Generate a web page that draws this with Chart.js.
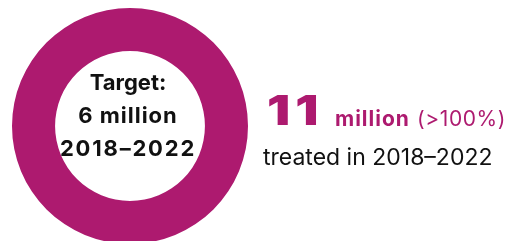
<!DOCTYPE html>
<html>
<head>
<meta charset="utf-8">
<script src="https://cdn.jsdelivr.net/npm/chart.js@4"></script>
<style>
  html, body { margin: 0; padding: 0; background: #fff; }
  body { width: 517px; height: 241px; overflow: hidden; position: relative; font-family: Inter, "Open Sans", sans-serif; }
  #ring { position: absolute; left: 0; top: 0; }
  .center { position: absolute; left: 38px; width: 180px; top: 66px; text-align: center; font-weight: 700; font-size: 22px; color: #111; line-height: 33px; }
  .center div:nth-child(2) { letter-spacing: 1px; }
  .center div:nth-child(3) { letter-spacing: 1.8px; }
  .t { position: absolute; line-height: 1; white-space: nowrap; color: #ad1a6f; }
  #num { left: 267px; top: 90px; font-size: 41px; font-weight: 900; letter-spacing: 4px; transform: scaleX(1.25); transform-origin: left center; }
  #unit { left: 335px; top: 108px; font-size: 21px; font-weight: 700; letter-spacing: 1px; }
  #pct { left: 417px; top: 108px; font-size: 21px; font-weight: 400; letter-spacing: 0.6px; }
  #sub { left: 263px; top: 146px; font-size: 23px; font-weight: 400; color: #111; }
</style>
</head>
<body>
<canvas id="ring" width="260" height="260"></canvas>
<div class="center" id="centerText"></div>
<div class="t" id="num"></div>
<div class="t" id="unit"></div>
<div class="t" id="pct"></div>
<div class="t" id="sub"></div>
<script>
// values
const labels = ['Treated 2018–2022'];
const treated = [11];
const ringColor = '#ad1a6f';
const centerLines = ['Target:', '6 million', '2018–2022'];
const headline = ['11', 'million', '(>100%)'];
const subline = 'treated in 2018–2022';

const box = document.getElementById('centerText');
centerLines.forEach(function (line) {
  const d = document.createElement('div');
  d.textContent = line;
  box.appendChild(d);
});
document.getElementById('num').textContent = headline[0];
document.getElementById('unit').textContent = headline[1];
document.getElementById('pct').textContent = headline[2];
document.getElementById('sub').textContent = subline;

new Chart(document.getElementById('ring').getContext('2d'), {
  type: 'doughnut',
  data: {
    labels: labels,
    datasets: [{
      data: treated,
      backgroundColor: [ringColor],
      borderWidth: 0
    }]
  },
  options: {
    responsive: false,
    animation: false,
    cutout: '63.5%',
    layout: { padding: { left: 12, top: 8, right: 12, bottom: 16 } },
    plugins: {
      legend: { display: false },
      tooltip: { enabled: false }
    }
  }
});
</script>
</body>
</html>
